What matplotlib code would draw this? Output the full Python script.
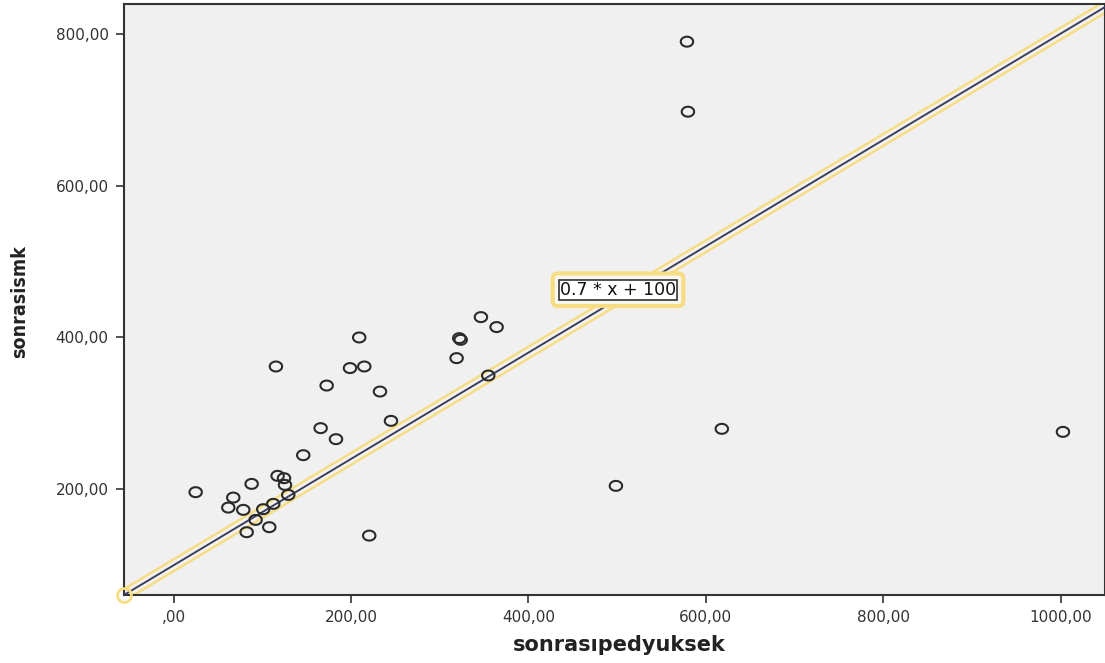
import numpy as np
import matplotlib
matplotlib.use("Agg")
import matplotlib.pyplot as plt
from matplotlib.path import Path
from matplotlib.ticker import FuncFormatter

# data
pedyuksek = [24.8, 67.2, 61.6, 78.5, 87.9, 92.4, 82.3, 107.8, 115.3, 117.2,
             124.4, 125.5, 129.2, 101.0, 112.3, 146.1, 165.7, 183.0, 172.5, 198.8,
             214.9, 209.2, 232.6, 245.0, 220.5, 319.0, 322.0, 323.6, 346.4, 364.1,
             354.7, 498.6, 579.8, 578.7, 618.0, 1002.6]
sismk = [196.2, 189.1, 175.9, 172.9, 207.1, 159.7, 143.5, 150.1, 361.7, 217.7,
         214.6, 205.8, 192.6, 173.8, 180.8, 244.9, 280.5, 266.0, 336.6, 359.6,
         361.7, 399.9, 328.7, 290.1, 139.0, 372.7, 399.0, 396.8, 426.7, 413.6,
         349.8, 204.5, 697.2, 789.4, 279.6, 275.6]
slope = 0.7
intercept = 100
fit_label = "0.7 * x + 100"
x_ticks = [0, 200, 400, 600, 800, 1000]
y_ticks = [200, 400, 600, 800]
x_lim = (-56, 1050)
y_lim = (60.8, 839)

plt.rcParams["font.family"] = ["DejaVu Sans"]

W, H = 1105, 663
fig = plt.figure(figsize=(W / 100, H / 100), dpi=100)
fig.patch.set_facecolor("white")
ax = fig.add_axes([124 / W, 1 - 595 / H, (W - 124) / W, (595 - 4) / H])
ax.set_facecolor("#f0f0f0")

# slightly wide ellipse marker like the SPSS output
t = np.linspace(0, 2 * np.pi, 60)
ellipse = Path(np.column_stack([1.25 * np.cos(t), np.sin(t)]))

# fit line with yellow halo
lx = np.array(x_lim, dtype=float)
ly = slope * lx + intercept
ax.plot(lx, ly, color="#f6dc82", lw=9, solid_capstyle="butt", zorder=2)
ax.plot(lx, ly, color="#f4f2ea", lw=5.5, solid_capstyle="butt", zorder=2)
ax.plot(lx, ly, color="#3b3f63", lw=1.4, zorder=3)
ax.plot([lx[0]], [ly[0]], marker="o", ms=10, mfc="none", mec="#f6dc82", mew=2,
        clip_on=False, zorder=3)

ax.scatter(pedyuksek, sismk, marker=ellipse, s=80, facecolors="none",
           edgecolors="#2a2a2a", linewidths=1.5, zorder=4)

# label box on the line
lab_x, lab_y = 501, 462.7
ax.text(lab_x, lab_y, fit_label, fontsize=12.5, color="none", ha="center", va="center",
        bbox=dict(boxstyle="round,pad=0.42,rounding_size=0.3", fc="#f7f6f0",
                  ec="#f6dc82", lw=3), zorder=5)
ax.text(lab_x, lab_y, fit_label, fontsize=12.5, color="#111111", ha="center", va="center",
        bbox=dict(boxstyle="square,pad=0.05", fc="white", ec="#333333", lw=1.2), zorder=6)

ax.set_xlim(*x_lim)
ax.set_ylim(*y_lim)
ax.set_xticks(x_ticks)
ax.set_yticks(y_ticks)

def fmt(v, pos):
    s = f"{v:.2f}".replace(".", ",")
    return s[1:] if s.startswith("0") else s

ax.xaxis.set_major_formatter(FuncFormatter(fmt))
ax.yaxis.set_major_formatter(FuncFormatter(fmt))
ax.tick_params(direction="out", length=6, width=1.2, color="#333333",
               labelsize=11, labelcolor="#333333", pad=5)
for sp in ax.spines.values():
    sp.set_color("#333333")
    sp.set_linewidth(1.5)

fig.text(619 / W, 1 - 645 / H, "sonrasıpedyuksek", fontsize=15, fontweight="bold",
         ha="center", va="center", color="#222222")
fig.text(20 / W, 1 - 302 / H, "sonrasismk", fontsize=14, fontweight="bold",
         family="DejaVu Sans", fontstretch="condensed", rotation=90,
         ha="center", va="center", color="#222222")

fig.savefig("out.png", dpi=100)
